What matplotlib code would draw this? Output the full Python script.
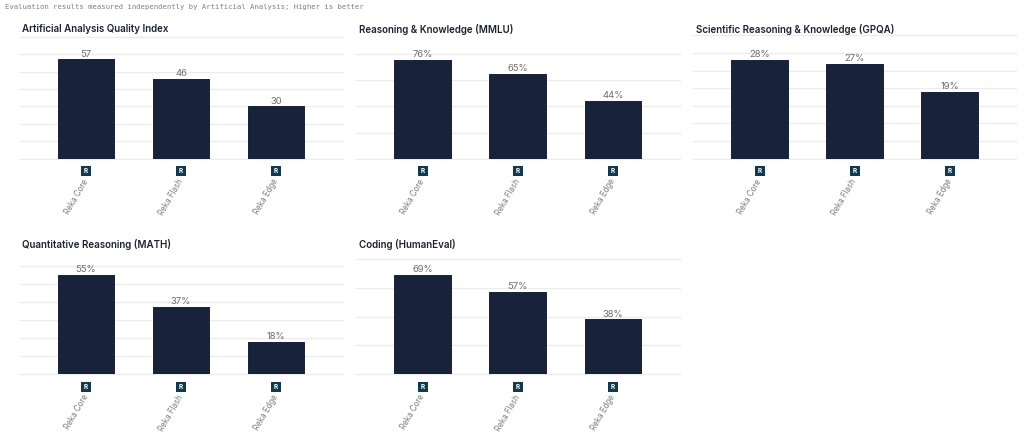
import matplotlib
matplotlib.use('Agg')
import matplotlib.pyplot as plt
from matplotlib.transforms import ScaledTranslation

W, H = 1024, 447
DPI = 100

models = ['Reka Core', 'Reka Flash', 'Reka Edge']
subtitle = 'Evaluation results measured independently by Artificial Analysis; Higher is better'

titles = ['Artificial Analysis Quality Index', 'Reasoning & Knowledge (MMLU)',
          'Scientific Reasoning & Knowledge (GPQA)', 'Quantitative Reasoning (MATH)',
          'Coding (HumanEval)']
quality = [57, 46, 30]
mmlu = [76, 65, 44]
gpqa = [28, 27, 19]
math_scores = [55, 37, 18]
humaneval = [69, 57, 38]
series = [quality, mmlu, gpqa, math_scores, humaneval]
suffixes = ['', '%', '%', '%', '%']
y_tops = [70, 80, 35, 60, 80]
y_steps = [10, 20, 5, 10, 20]

# left, right, top, bottom of each plot area in pixels
boxes = [(19.5, 342.5, 36.7, 158.7),
         (356, 679.5, 54.3, 158.7),
         (693, 1016, 35.3, 158.7),
         (19.5, 342.5, 265.7, 374.3),
         (356, 679.5, 258.7, 374.3)]
title_pos = [(22, 29.5), (359, 29.5), (696, 29.5), (22, 245), (359, 245)]

BAR = '#18223a'
GRID = '#ececec'
GREY = '#6e6e6e'
LOGO = '#0f3a50'

plt.rcParams['font.family'] = ['Inter', 'DejaVu Sans']

fig = plt.figure(figsize=(W / DPI, H / DPI), dpi=DPI)
fig.text(5 / W, 1 - 7.5 / H, subtitle, family='DejaVu Sans Mono', fontsize=5.2,
         color='#808080', va='center', ha='left')

for i in range(5):
    l, r, t, b = boxes[i]
    ax = fig.add_axes([l / W, 1 - b / H, (r - l) / W, (b - t) / H])
    ax.bar(range(3), series[i], width=0.595, color=BAR, edgecolor=BAR, linewidth=0.7,
           joinstyle='round', zorder=3)
    ax.set_xlim(-0.7, 2.7)
    ax.set_ylim(0, y_tops[i])
    ax.set_yticks(range(0, y_tops[i] + 1, y_steps[i]))
    ax.set_yticklabels([])
    ax.grid(axis='y', color=GRID, lw=1, clip_on=False)
    ax.set_axisbelow(True)
    for s in ax.spines.values():
        s.set_visible(False)
    ax.tick_params(length=0)
    ax.tick_params(axis='x', pad=15)
    ax.set_xticks(range(3))
    ax.set_xticklabels(models, rotation=60, ha='right', va='center', rotation_mode='anchor',
                       fontsize=5.7, color='#7d7d7d')

    for j, v in enumerate(series[i]):
        ax.annotate(f'{v}{suffixes[i]}', (j, v), xytext=(0, 0.6), textcoords='offset points',
                    ha='center', va='bottom', fontsize=6.8, color=GREY, zorder=4)

    # small logo square under each bar
    shift = ax.get_xaxis_transform() + ScaledTranslation(0, -12.3 / DPI, fig.dpi_scale_trans)
    ax.plot(range(3), [0, 0, 0], ls='none', marker='s', ms=7.4, color=LOGO, mew=0,
            transform=shift, clip_on=False, zorder=5)
    for j in range(3):
        ax.text(j, 0, 'R', transform=shift, ha='center', va='center', fontsize=4.6,
                fontweight='bold', color='white', zorder=6, clip_on=False)

    fig.text(title_pos[i][0] / W, 1 - title_pos[i][1] / H, titles[i], fontsize=7.05,
             fontweight='semibold', color='#1c2230', va='center', ha='left')

fig.savefig('out.png', dpi=DPI)
